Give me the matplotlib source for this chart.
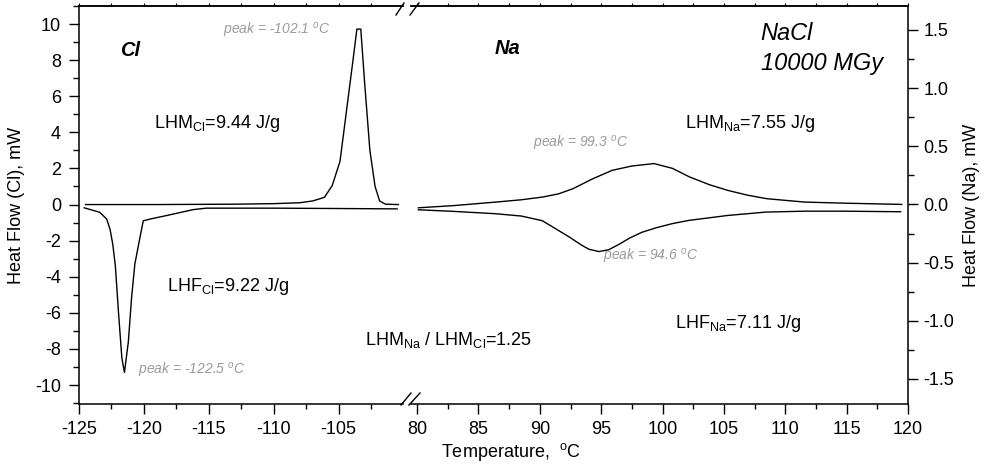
import matplotlib
matplotlib.use("Agg")
import matplotlib.pyplot as plt
from matplotlib.ticker import MultipleLocator, FormatStrFormatter
from matplotlib.lines import Line2D

plt.rcParams['font.family'] = ['Liberation Sans', 'DejaVu Sans']
plt.rcParams['mathtext.default'] = 'regular'
plt.rcParams['axes.unicode_minus'] = False

# ---- data ----
cl_heat_T = [-124.5, -122.0, -119.0, -116.0, -113.0, -110.0, -108.0, -107.0, -106.1,
             -105.5, -104.9, -104.4, -103.9, -103.6, -103.3, -103.0, -102.6, -102.2,
             -101.85, -101.4, -100.4]
cl_heat_Q = [0.0, 0.0, 0.0, 0.01, 0.02, 0.05, 0.1, 0.2, 0.4,
             1.05, 2.4, 5.2, 8.0, 9.72, 9.72, 6.7, 3.0, 1.0,
             0.2, 0.02, 0.0]

cl_cool_T = [-124.6, -123.4, -122.87, -122.6, -122.4, -122.2, -121.95, -121.7, -121.5,
             -121.2, -120.95, -120.7, -120.3, -120.05, -119.5, -118.2, -116.2, -115.2,
             -110.0, -105.0, -100.5]
cl_cool_Q = [-0.18, -0.43, -0.8, -1.4, -2.2, -3.4, -6.06, -8.5, -9.3,
             -7.6, -5.15, -3.3, -1.8, -0.9, -0.8, -0.6, -0.28, -0.2,
             -0.2, -0.22, -0.24]

na_heat_T = [80.1, 83.0, 86.4, 88.5, 90.2, 91.5, 92.7, 94.3, 95.9, 97.5, 99.3, 100.8,
             102.2, 103.8, 105.3, 106.9, 108.5, 111.6, 114.7, 119.5]
na_heat_Q = [-0.029, -0.01, 0.02, 0.04, 0.063, 0.09, 0.135, 0.22, 0.293, 0.33, 0.351, 0.31,
             0.236, 0.17, 0.121, 0.08, 0.049, 0.020, 0.011, 0.0]

na_cool_T = [80.1, 83.0, 86.4, 88.5, 90.2, 91.3, 92.4, 93.4, 94.0, 94.8, 95.6,
             96.5, 97.3, 98.3, 99.5, 100.8, 102.1, 105.3, 108.4, 111.6, 114.7, 119.4]
na_cool_Q = [-0.046, -0.06, -0.08, -0.10, -0.14, -0.21, -0.28, -0.35, -0.385, -0.405, -0.39,
             -0.34, -0.29, -0.24, -0.20, -0.165, -0.138, -0.095, -0.066, -0.058, -0.058, -0.063]

W, H = 984, 467
fig = plt.figure(figsize=(W / 100, H / 100), dpi=100)

def fx(x):
    return x / W

def fy(y):
    return 1 - y / H

axL = fig.add_axes([fx(79), fy(404), (403 - 79) / W, 398 / H])
axR = fig.add_axes([fx(411), fy(404), (908 - 411) / W, 398 / H])

lw_curve = 1.0
axL.plot(cl_heat_T, cl_heat_Q, color='black', lw=lw_curve)
axL.plot(cl_cool_T, cl_cool_Q, color='black', lw=lw_curve)
axR.plot(na_heat_T, na_heat_Q, color='black', lw=lw_curve)
axR.plot(na_cool_T, na_cool_Q, color='black', lw=lw_curve)

axL.set_xlim(-125, -100.05)
axL.set_ylim(-11.05, 11.0)
axR.set_xlim(79.5, 120)
axR.set_ylim(-1.715, 1.705)

tick_fs = 13
for ax in (axL, axR):
    for s in ax.spines.values():
        s.set_linewidth(1.1)
    ax.xaxis.set_major_locator(MultipleLocator(5))
    ax.xaxis.set_minor_locator(MultipleLocator(2.5))
    ax.tick_params(axis='x', which='major', direction='out', length=7, width=1.0,
                   labelsize=tick_fs, pad=5)
    ax.tick_params(axis='x', which='minor', direction='out', length=3.5, width=1.0)
    sec = ax.secondary_xaxis('top')
    sec.xaxis.set_major_locator(MultipleLocator(2.5))
    sec.tick_params(axis='x', which='major', direction='out', length=2.5, width=0.8,
                    labeltop=False)
    sec.spines['top'].set_linewidth(1.1)

axL.spines['right'].set_visible(False)
axR.spines['left'].set_visible(False)
axL.yaxis.set_major_locator(MultipleLocator(2))
axL.yaxis.set_minor_locator(MultipleLocator(1))
axL.tick_params(axis='y', which='major', left=True, right=False, direction='out',
                length=7, width=1.0, labelsize=tick_fs, pad=6)
axL.tick_params(axis='y', which='minor', left=True, right=False, direction='out',
                length=4, width=1.0)

axR.yaxis.tick_right()
axR.yaxis.set_major_locator(MultipleLocator(0.5))
axR.yaxis.set_minor_locator(MultipleLocator(0.25))
axR.yaxis.set_major_formatter(FormatStrFormatter('%.1f'))
axR.tick_params(axis='y', which='major', left=False, right=True, direction='out',
                length=7, width=1.0, labelsize=tick_fs, pad=4)
axR.tick_params(axis='y', which='minor', left=False, right=True, direction='out',
                length=4, width=1.0)

# axis labels
fig.text(fx(17), fy(205), 'Heat Flow (Cl), mW', rotation=90, ha='center', va='center',
         fontsize=13)
fig.text(fx(972), fy(205), 'Heat Flow (Na), mW', rotation=90, ha='center', va='center',
         fontsize=13)
fig.text(fx(511), fy(452), 'Temperature,  $^{o}$C', ha='center', va='center', fontsize=13)

# break marks
for (x0, y0, x1, y1) in [(396, 15, 404, 3), (410, 15, 419, 3),
                         (401, 405, 411, 393), (409, 405, 420, 393)]:
    fig.add_artist(Line2D([fx(x0), fx(x1)], [fy(y0), fy(y1)], color='black', lw=1.0,
                          transform=fig.transFigure))

# annotations
gray = '#9a9a9a'
fig.text(fx(130), fy(50), 'Cl', fontsize=14.5, fontweight='bold', style='italic',
         ha='center', va='center')
fig.text(fx(508), fy(49), 'Na', fontsize=14.5, fontweight='bold', style='italic',
         ha='center', va='center')
fig.text(fx(760), fy(40), 'NaCl', fontsize=17, style='italic', ha='left', va='baseline')
fig.text(fx(761), fy(70), '10000 MGy', fontsize=17, style='italic', ha='left', va='baseline')

fig.text(fx(223), fy(30), 'peak = -102.1 $^{o}$C', fontsize=10, style='italic', color=gray,
         ha='left', va='center')
fig.text(fx(138), fy(371), 'peak = -122.5 $^{o}$C', fontsize=10, style='italic', color=gray,
         ha='left', va='center')
fig.text(fx(533), fy(143.5), 'peak = 99.3 $^{o}$C', fontsize=10, style='italic', color=gray,
         ha='left', va='center')
fig.text(fx(603), fy(257), 'peak = 94.6 $^{o}$C', fontsize=10, style='italic', color=gray,
         ha='left', va='center')

ann_fs = 13
fig.text(fx(154), fy(128), r'LHM$_{Cl}$=9.44 J/g', fontsize=ann_fs, ha='left', va='baseline')
fig.text(fx(167), fy(291), r'LHF$_{Cl}$=9.22 J/g', fontsize=ann_fs, ha='left', va='baseline')
fig.text(fx(365), fy(345), r'LHM$_{Na}$ / LHM$_{Cl}$=1.25', fontsize=ann_fs, ha='left',
         va='baseline')
fig.text(fx(685), fy(128), r'LHM$_{Na}$=7.55 J/g', fontsize=ann_fs, ha='left', va='baseline')
fig.text(fx(675), fy(328), r'LHF$_{Na}$=7.11 J/g', fontsize=ann_fs, ha='left', va='baseline')

fig.savefig('out.png', dpi=100)
